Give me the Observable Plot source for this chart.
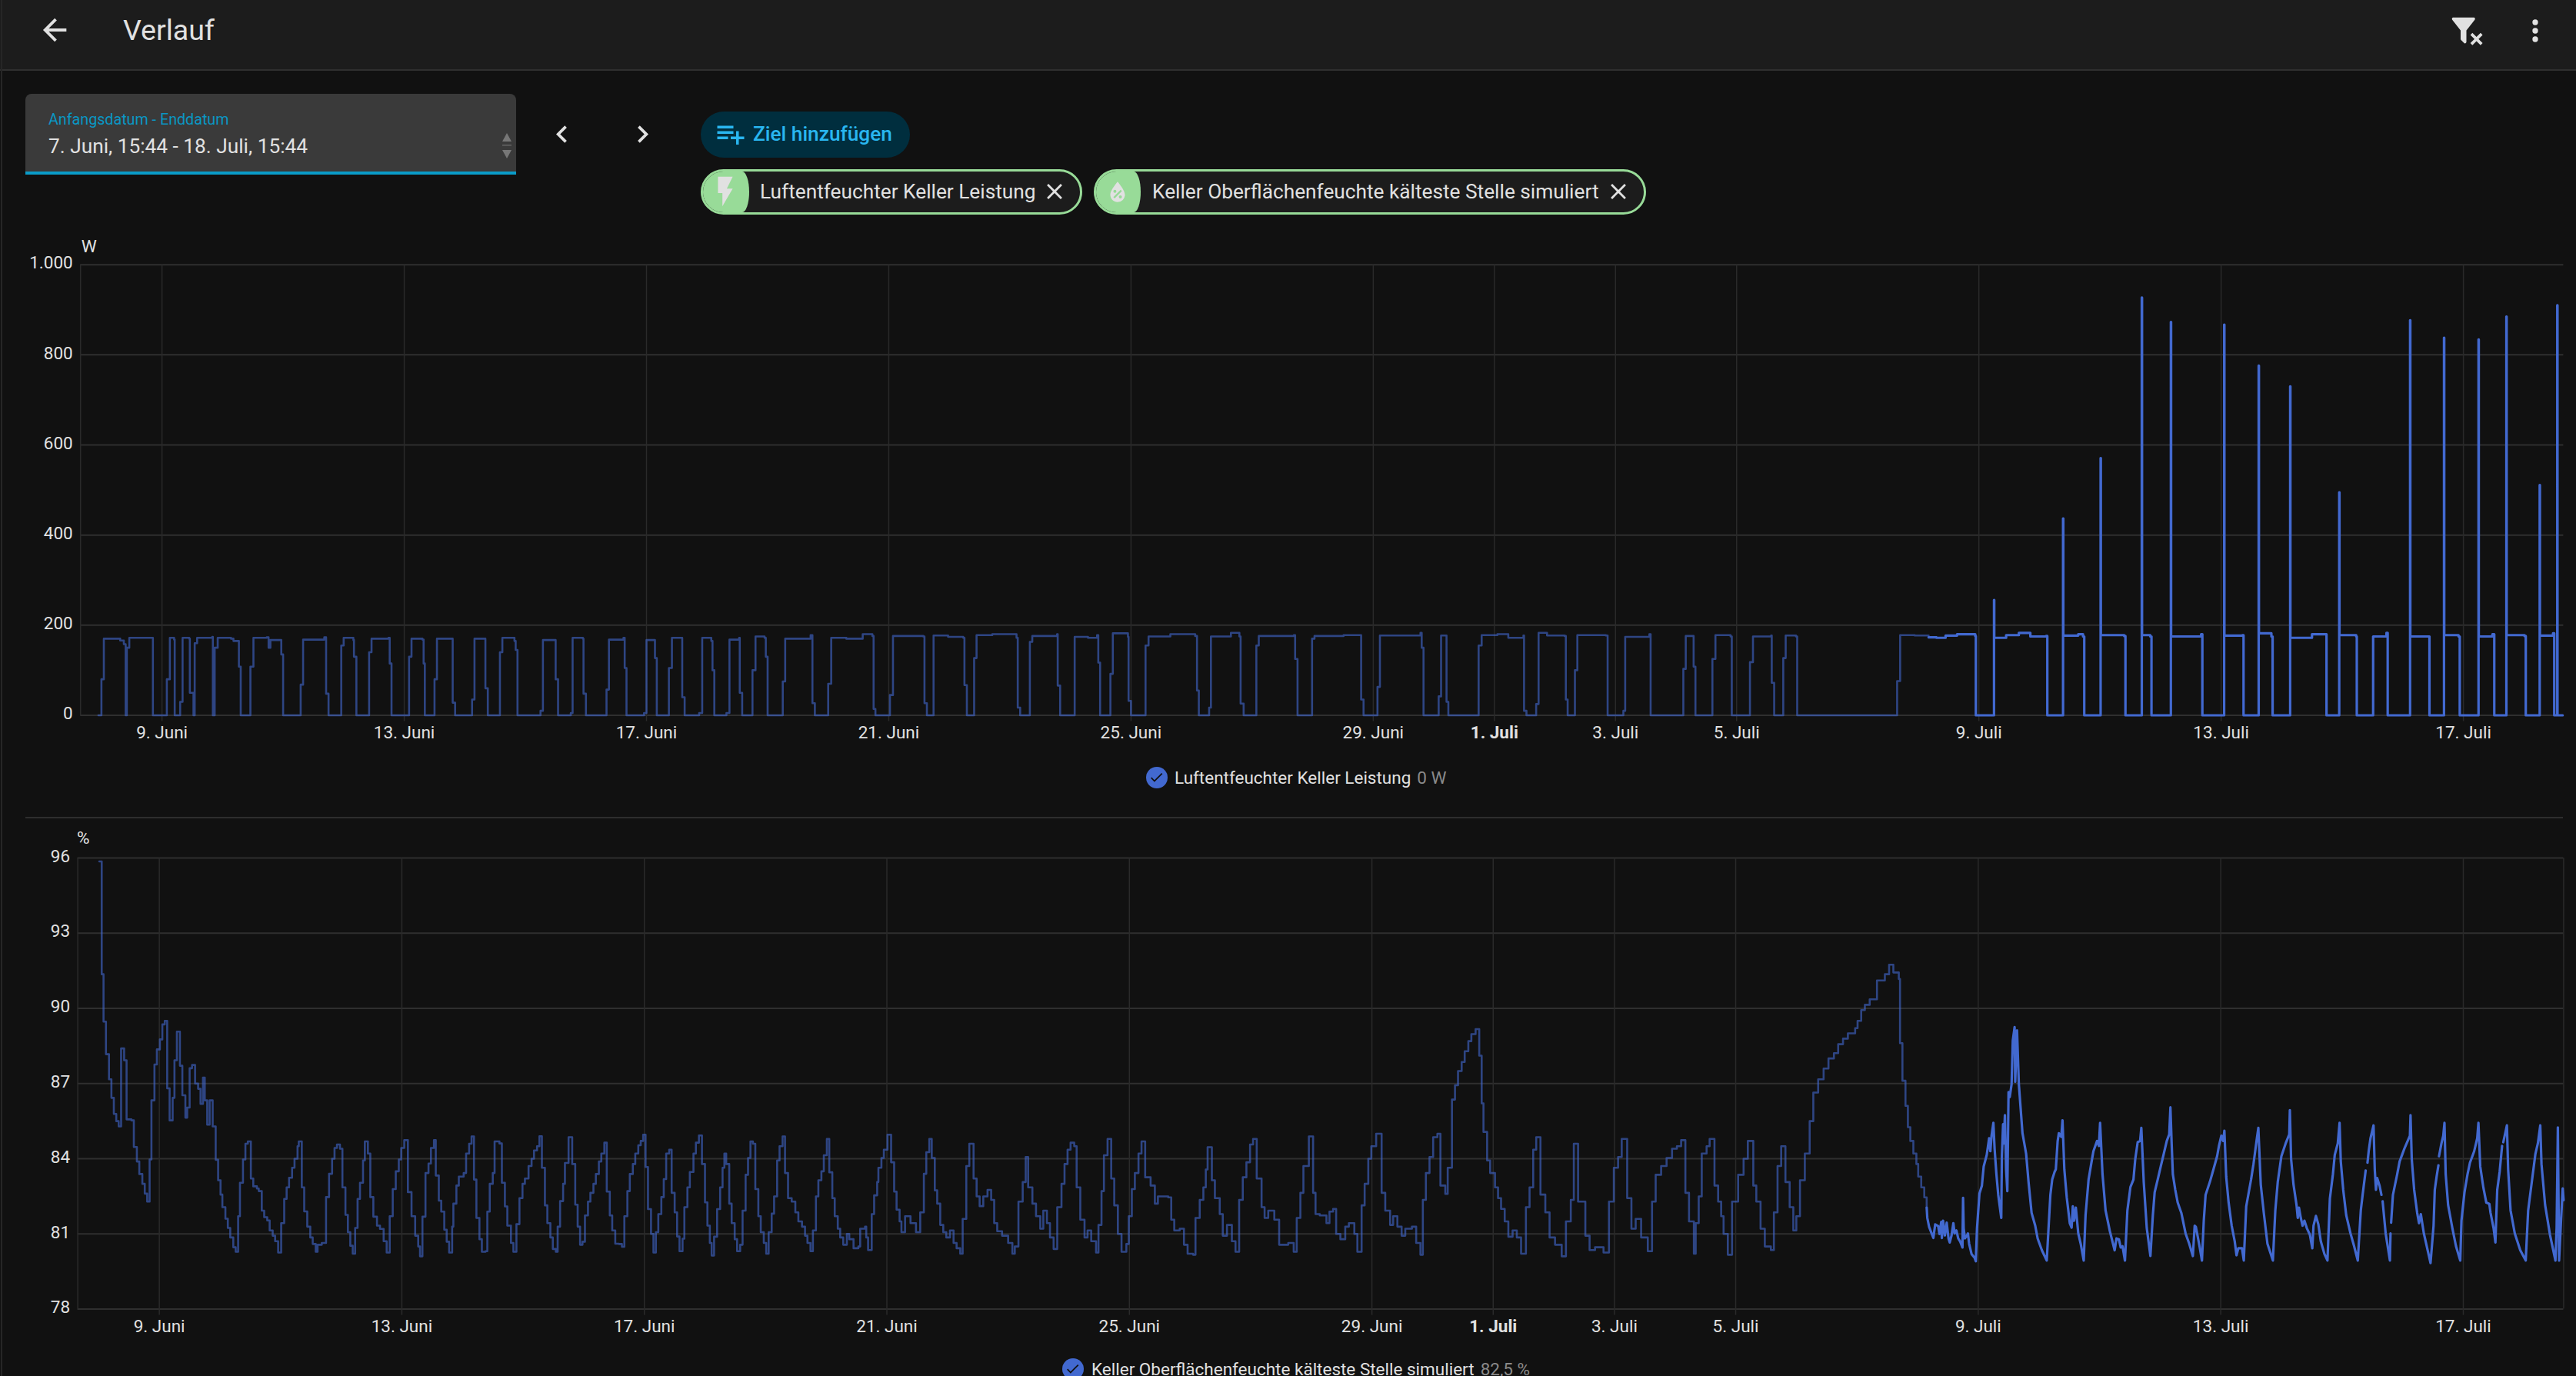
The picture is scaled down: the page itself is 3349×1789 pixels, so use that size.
<!DOCTYPE html>
<html lang="de"><head><meta charset="utf-8"><title>Verlauf</title>
<script src="https://cdn.jsdelivr.net/npm/d3@7"></script>
<script src="https://cdn.jsdelivr.net/npm/@observablehq/plot@0.6"></script>
<style>
html,body{margin:0;padding:0;background:#111111;width:3349px;height:1789px;overflow:hidden;font-family:Roboto,sans-serif;color:#e1e1e1}
.abs{position:absolute}
#header{left:0;top:0;width:3349px;height:90px;background:#1c1c1c;border-bottom:2px solid #2f2f2f}
#sideline{left:1px;top:0;width:2px;height:1789px;background:#262626}
#title{left:160px;top:17px;font-size:37.5px;line-height:44px;color:#e1e1e1}
svg.icon{position:absolute;fill:#e1e1e1}
#datebox{left:33px;top:122px;width:638px;height:101px;background:#3a3a3a;border-radius:8px 8px 0 0;border-bottom:4px solid #0a9cc9}
#datelabel{left:63px;top:144px;font-size:19.7px;line-height:24px;color:#0a97c4}
#datevalue{left:63px;top:174px;font-size:26.25px;line-height:32px;color:#e1e1e1}
#addchip{left:911px;top:145px;width:272px;height:60px;border-radius:30px;background:#002e3e}
#addtext{left:979px;top:157px;font-size:26.25px;line-height:34px;font-weight:500;color:#29b6f0}
.chip{position:absolute;top:220px;height:53px;border:3px solid #98db98;border-radius:30px;background:#1c1c1c;overflow:hidden}
.chipgreen{position:absolute;left:0;top:0;height:100%;background:#98db98;border-radius:0 9px 9px 0/0 50% 50% 0}
.chiptext{position:absolute;top:232px;font-size:26.25px;line-height:34px;color:#e1e1e1;white-space:nowrap}
.legend{position:absolute;font-size:22.5px;line-height:28px;color:#e1e1e1;white-space:nowrap}
.legend span{color:#8a8a8a;margin-left:8px}
.dot{position:absolute;width:28px;height:28px;border-radius:50%;background:#4269d0}
#sep{left:33px;top:1062px;width:3299px;height:2px;background:#2e2e2e}
#chartPower,#chartHumidity{position:absolute;left:0}
#chartPower{top:300px}#chartHumidity{top:1070px}
</style></head><body>
<div class="abs" id="header"></div><div class="abs" id="sideline"></div>
<svg class="icon" style="left:48px;top:16px" width="46" height="46" viewBox="0 0 24 24"><path d="M20,11V13H8L13.5,18.5L12.08,19.92L4.16,12L12.08,4.08L13.5,5.5L8,11H20Z"/></svg>
<div class="abs" id="title">Verlauf</div>
<svg class="icon" style="left:3184px;top:17px" width="45" height="45" viewBox="0 0 24 24"><path d="M14.76,20.83L17.6,18L14.76,15.17L16.17,13.76L19,16.57L21.83,13.76L23.24,15.17L20.43,18L23.24,20.83L21.83,22.24L19,19.4L16.17,22.24L14.76,20.83M12,12V19.88C12.04,20.18 11.94,20.5 11.71,20.71C11.32,21.1 10.69,21.1 10.3,20.71L8.29,18.7C8.06,18.47 7.96,18.16 8,17.87V12H7.97L2.21,4.62C1.87,4.19 1.95,3.56 2.38,3.22C2.57,3.08 2.78,3 3,3V3H17V3C17.22,3 17.43,3.08 17.62,3.22C18.05,3.56 18.13,4.19 17.79,4.62L12.03,12H12Z"/></svg>
<svg class="icon" style="left:3274px;top:18px" width="44" height="44" viewBox="0 0 24 24"><path d="M12,16A2,2 0 0,1 14,18A2,2 0 0,1 12,20A2,2 0 0,1 10,18A2,2 0 0,1 12,16M12,10A2,2 0 0,1 14,12A2,2 0 0,1 12,14A2,2 0 0,1 10,12A2,2 0 0,1 12,10M12,4A2,2 0 0,1 14,6A2,2 0 0,1 12,8A2,2 0 0,1 10,6A2,2 0 0,1 12,4Z"/></svg>
<div class="abs" id="datebox"></div>
<div class="abs" id="datelabel">Anfangsdatum - Enddatum</div>
<div class="abs" id="datevalue">7. Juni, 15:44 - 18. Juli, 15:44</div>
<svg class="abs" style="left:652px;top:172px" width="14" height="36" viewBox="0 0 14 36"><path d="M7 1L13 12H1Z" fill="#777"/><rect x="1" y="16" width="12" height="1.5" fill="#666"/><path d="M7 34L13 23H1Z" fill="#777"/></svg>
<svg class="icon" style="left:708px;top:152px" width="45" height="45" viewBox="0 0 24 24"><path d="M15.41,16.58L10.83,12L15.41,7.41L14,6L8,12L14,18L15.41,16.58Z"/></svg>
<svg class="icon" style="left:813px;top:152px" width="45" height="45" viewBox="0 0 24 24"><path d="M8.59,16.58L13.17,12L8.59,7.41L10,6L16,12L10,18L8.59,16.58Z"/></svg>
<div class="abs" id="addchip"></div>
<svg class="icon" style="left:929px;top:153px;fill:#29b6f0" width="42" height="42" viewBox="0 0 24 24"><path d="M2,16H10V14H2M18,14V10H16V14H12V16H16V20H18V16H22V14M14,6H2V8H14M14,10H2V12H14V10Z"/></svg>
<div class="abs" id="addtext">Ziel hinzufügen</div>
<div class="chip" style="left:911px;width:490px"><div class="chipgreen" style="width:60px"></div></div>
<svg class="icon" style="left:920px;top:226px" width="46" height="46" viewBox="0 0 24 24"><path d="M7,2V13H10V22L17,10H13L17,2H7Z"/></svg>
<div class="chiptext" style="left:988px">Luftentfeuchter Keller Leistung</div>
<svg class="icon" style="left:1354px;top:232px" width="34" height="34" viewBox="0 0 24 24"><path d="M19,6.41L17.59,5L12,10.59L6.41,5L5,6.41L10.59,12L5,17.59L6.41,19L12,13.41L17.59,19L19,17.59L13.41,12L19,6.41Z"/></svg>
<div class="chip" style="left:1422px;width:712px"><div class="chipgreen" style="width:58px"></div></div>
<svg class="icon" style="left:1434px;top:231px" width="38" height="38" viewBox="0 0 24 24"><path d="M12,3.25C12,3.25 6,10 6,14C6,17.32 8.69,20 12,20A6,6 0 0,0 18,14C18,10 12,3.25 12,3.25M14.47,9.97L15.53,11.03L9.53,17.03L8.47,15.97M9.75,10A1.25,1.25 0 0,1 11,11.25A1.25,1.25 0 0,1 9.75,12.5A1.25,1.25 0 0,1 8.5,11.25A1.25,1.25 0 0,1 9.75,10M14.25,14.5A1.25,1.25 0 0,1 15.5,15.75A1.25,1.25 0 0,1 14.25,17A1.25,1.25 0 0,1 13,15.75A1.25,1.25 0 0,1 14.25,14.5Z"/></svg>
<div class="chiptext" style="left:1498px">Keller Oberflächenfeuchte kälteste Stelle simuliert</div>
<svg class="icon" style="left:2087px;top:232px" width="34" height="34" viewBox="0 0 24 24"><path d="M19,6.41L17.59,5L12,10.59L6.41,5L5,6.41L10.59,12L5,17.59L6.41,19L12,13.41L17.59,19L19,17.59L13.41,12L19,6.41Z"/></svg>
<div id="chartPower"></div>
<div class="dot" style="left:1489.5px;top:997px"></div>
<svg class="icon" style="left:1493px;top:1000px" width="21" height="21" viewBox="0 0 24 24"><path d="M21,7L9,19L3.5,13.5L4.91,12.09L9,16.17L19.59,5.59L21,7Z" fill="#111"/></svg>
<div class="legend" style="left:1527px;top:997px">Luftentfeuchter Keller Leistung<span>0 W</span></div>
<div class="abs" id="sep"></div>
<div id="chartHumidity"></div>
<div class="dot" style="left:1381px;top:1766px"></div>
<svg class="icon" style="left:1384px;top:1769px" width="21" height="21" viewBox="0 0 24 24"><path d="M21,7L9,19L3.5,13.5L4.91,12.09L9,16.17L19.59,5.59L21,7Z" fill="#111"/></svg>
<div class="legend" style="left:1419px;top:1766px">Keller Oberflächenfeuchte kälteste Stelle simuliert<span>82,5 %</span></div>
<script>
// Time is given as a day number counted from 1 June (31 = 1 July), with the fraction as time of day.
const rangeDays = [7.655, 48.655];
const tickDays = [9, 13, 17, 21, 25, 29, 33, 35, 39, 43, 47];
const tickLabels = ["9. Juni", "13. Juni", "17. Juni", "21. Juni", "25. Juni", "29. Juni", "3. Juli", "5. Juli", "9. Juli", "13. Juli", "17. Juli"];
const monthTickDay = 31;
const monthTickLabel = "1. Juli";
const powerTicks = [0, 200, 400, 600, 800, 1000];
const powerTickLabels = ["0", "200", "400", "600", "800", "1.000"];
const humidityTicks = [78, 81, 84, 87, 90, 93, 96];

const powerOlder = [[7.95,0],[8.00,80],[8.04,170],[8.31,166],[8.37,158],[8.40,0],[8.42,150],[8.46,172],[8.84,172],[8.85,0],
[9.08,80],[9.13,172],[9.20,168],[9.21,0],[9.30,30],[9.34,172],[9.45,170],[9.46,50],[9.52,0],[9.54,160],[9.58,172],[9.83,174],[9.84,0],[9.87,150],[9.92,172],[10.14,170],[10.18,165],[10.25,165],[10.27,108],[10.30,0],
[10.46,108],[10.51,172],[10.73,173],[10.76,150],[10.79,167],[10.95,167],[10.97,135],[11.00,0],[11.29,68],[11.33,168],[11.68,173],[11.71,48],[11.75,0],[11.96,155],[12.00,172],[12.16,167],[12.17,130],[12.21,0],
[12.42,140],[12.46,170],[12.74,172],[12.76,115],[12.79,0],[13.08,130],[13.12,170],[13.30,168],[13.32,115],[13.34,0],[13.50,80],[13.54,170],[13.77,170],[13.80,28],[13.84,0],[14.12,35],[14.16,170],[14.33,170],[14.34,60],[14.38,0],
[14.58,140],[14.62,172],[14.82,165],[14.84,145],[14.87,0],[15.25,10],[15.29,167],[15.49,167],[15.50,80],[15.54,0],[15.75,5],[15.78,172],[15.95,170],[15.96,48],[16.00,0],[16.34,57],[16.38,168],[16.62,172],[16.64,105],[16.67,0],
[16.96,5],[17.00,167],[17.12,167],[17.14,127],[17.17,0],[17.37,105],[17.42,172],[17.58,172],[17.59,40],[17.63,0],[17.87,5],[17.92,172],[18.07,165],[18.09,100],[18.12,0],[18.32,5],[18.37,168],[18.53,172],[18.54,50],[18.58,0],
[18.75,100],[18.80,175],[18.95,172],[18.97,130],[19.00,0],[19.25,75],[19.29,170],[19.71,178],[19.74,27],[19.78,0],[20.00,70],[20.05,172],[20.30,170],[20.57,180],[20.73,176],[20.75,14],[20.78,0],
[21.02,45],[21.07,176],[21.57,175],[21.59,27],[21.63,0],[21.74,177],[21.98,174],[22.23,172],[22.25,67],[22.29,0],[22.41,127],[22.45,178],[22.71,180],[23.11,172],[23.13,17],[23.17,0],[23.33,163],[23.37,176],[23.78,180],[23.79,66],[23.83,0],
[24.07,174],[24.29,172],[24.44,178],[24.46,117],[24.49,0],[24.66,92],[24.70,182],[24.95,174],[24.96,32],[25.00,0],[25.24,155],[25.29,175],[25.65,180],[26.06,176],[26.09,55],[26.12,0],[26.29,17],[26.32,175],[26.65,183],[26.79,175],[26.81,26],[26.86,0],
[27.07,155],[27.11,176],[27.69,178],[27.71,125],[27.75,0],[27.99,170],[28.03,176],[28.51,178],[28.78,178],[28.80,35],[28.84,0],[29.07,63],[29.11,177],[29.78,183],[29.80,150],[29.83,0],[30.08,42],[30.12,177],[30.19,177],[30.21,30],[30.24,0],
[30.74,155],[30.79,178],[31.05,180],[31.23,172],[31.48,177],[31.49,10],[31.53,0],[31.69,25],[31.73,183],[31.87,177],[32.16,176],[32.18,35],[32.21,0],[32.33,100],[32.37,178],[32.84,177],[32.87,0],[33.13,10],[33.16,174],[33.56,180],[33.58,0],
[34.12,103],[34.16,176],[34.27,176],[34.29,108],[34.32,0],[34.60,125],[34.65,178],[34.90,175],[34.92,0],[35.22,118],[35.27,175],[35.57,177],[35.58,72],[35.62,0],[35.77,127],[35.81,177],[35.98,175],[36.00,0],[37.65,76],[37.70,178],[37.94,177],[38.17,173]];

const powerRecent = [[38.17,173],[38.30,172],[38.45,177],[38.64,180],[38.94,176],[38.95,0],[39.25,256],[39.254,172],[39.45,178],[39.66,183],[39.85,175],[40.11,176],[40.13,0],[40.39,437],[40.394,177],[40.64,180],[40.72,175],[40.74,0],[41.01,571],[41.014,178],[41.40,176],[41.42,0],
[41.69,927],[41.694,178],[41.83,175],[41.85,0],[42.17,873],[42.174,175],[42.67,180],[42.69,0],[43.05,867],[43.054,177],[43.35,178],[43.37,0],[43.62,776],[43.624,182],[43.83,175],[43.85,0],[44.14,730],[44.144,172],[44.50,180],[44.73,180],[44.74,0],
[44.95,495],[44.954,178],[45.23,175],[45.24,0],[45.51,175],[45.73,183],[45.75,0],[46.12,877],[46.124,175],[46.42,175],[46.44,0],[46.68,838],[46.684,178],[46.92,175],[46.94,0],[47.25,834],[47.254,175],[47.48,180],[47.51,0],
[47.71,885],[47.714,178],[48.01,176],[48.03,0],[48.26,511],[48.264,177],[48.48,182],[48.50,0],[48.55,910],[48.554,0],[48.64,0]];

const humidityOlder = [[8.01,95.86],[8.05,91.36],[8.08,89.47],[8.12,88.17],[8.17,87.17],[8.21,86.43],[8.25,85.79],[8.29,85.5],[8.33,85.29],[8.37,88.4],[8.42,87.93],[8.46,85.57],[8.54,85.53],[8.58,84.47],[8.63,83.89],[8.67,83.39],[8.72,83.0],[8.76,82.61],[8.80,82.29],[8.84,83.97],[8.87,86.33],[8.92,87.76],[8.96,88.36],
[9.01,88.76],[9.05,89.36],[9.09,89.5],[9.13,86.81],[9.17,85.53],[9.22,86.43],[9.25,87.93],[9.29,89.07],[9.34,87.71],[9.38,86.53],[9.43,85.64],[9.46,86.04],[9.50,87.61],[9.54,87.74],[9.59,87.0],[9.64,86.79],[9.68,86.19],[9.72,87.24],[9.75,86.33],[9.79,85.36],[9.83,86.33],[9.88,85.29],[9.93,83.96],[9.97,83.14],
[10.01,82.57],[10.04,82.07],[10.09,81.61],[10.13,81.24],[10.17,80.86],[10.22,80.47],[10.26,80.29],[10.30,81.71],[10.33,83.04],[10.38,83.97],[10.42,84.6],[10.46,84.69],[10.51,83.21],[10.55,82.9],[10.61,82.81],[10.64,82.71],[10.69,81.93],[10.73,81.67],[10.78,81.54],[10.82,81.14],[10.87,80.93],[10.91,80.71],[10.96,80.26],
[11.01,81.43],[11.06,82.4],[11.10,82.86],[11.14,83.24],[11.19,83.64],[11.23,84.0],[11.28,84.5],[11.30,84.69],[11.35,82.86],[11.39,81.9],[11.44,81.29],[11.49,80.86],[11.53,80.6],[11.58,80.29],[11.61,80.57],[11.68,80.64],[11.75,82.47],[11.80,83.4],[11.85,84.0],[11.89,84.43],[11.93,84.57],[11.98,84.4],
[12.02,82.86],[12.07,81.76],[12.11,81.07],[12.15,80.53],[12.19,80.21],[12.23,81.24],[12.27,82.4],[12.31,83.04],[12.36,83.93],[12.39,84.69],[12.44,84.21],[12.48,82.47],[12.53,81.69],[12.59,81.33],[12.64,81.2],[12.70,80.71],[12.75,80.26],[12.80,81.71],[12.85,82.79],[12.90,83.5],[12.95,83.97],[12.99,84.43],
[13.04,84.74],[13.10,82.67],[13.16,81.71],[13.22,80.93],[13.27,80.5],[13.30,80.11],[13.34,81.69],[13.39,83.43],[13.44,83.81],[13.48,84.43],[13.53,84.74],[13.56,83.33],[13.61,82.33],[13.65,81.89],[13.70,81.17],[13.74,80.69],[13.78,80.26],[13.83,81.29],[13.85,82.21],[13.90,82.93],[13.94,83.29],[14.02,83.43],[14.06,84.21],[14.11,84.6],[14.15,84.89],
[14.19,83.17],[14.23,81.64],[14.28,80.79],[14.32,80.29],[14.38,80.31],[14.41,81.89],[14.45,83.0],[14.50,83.43],[14.53,84.69],[14.61,84.61],[14.65,83.04],[14.70,82.1],[14.74,81.33],[14.80,80.64],[14.84,80.29],[14.89,81.39],[14.94,82.43],[14.99,83.0],[15.03,83.21],[15.09,83.71],[15.14,84.0],[15.18,84.33],[15.23,84.5],[15.27,84.9],
[15.31,83.64],[15.36,82.14],[15.40,81.43],[15.45,80.86],[15.49,80.4],[15.54,80.29],[15.57,81.29],[15.61,82.31],[15.66,83.0],[15.69,83.83],[15.75,84.86],[15.81,83.79],[15.86,82.17],[15.90,81.29],[15.94,80.57],[15.98,80.69],[16.02,81.74],[16.07,82.29],[16.11,82.64],[16.16,83.0],[16.20,83.39],[16.25,83.89],[16.29,84.21],[16.34,84.64],
[16.38,82.69],[16.43,81.74],[16.47,81.14],[16.52,80.61],[16.58,80.6],[16.63,80.49],[16.67,81.71],[16.72,82.71],[16.76,83.39],[16.81,83.79],[16.85,84.21],[16.90,84.54],[16.94,84.71],[16.98,84.96],[17.02,83.67],[17.06,81.99],[17.11,81.0],[17.15,80.26],[17.19,81.07],[17.23,81.79],[17.28,82.47],[17.32,83.19],[17.36,84.21],[17.41,84.36],
[17.45,82.64],[17.50,81.86],[17.54,80.9],[17.58,80.31],[17.63,80.81],[17.66,82.07],[17.71,82.86],[17.75,83.47],[17.81,84.21],[17.85,84.64],[17.90,84.93],[17.95,83.79],[18.00,82.26],[18.04,81.33],[18.08,80.64],[18.11,80.14],[18.15,80.89],[18.20,81.99],[18.25,82.86],[18.29,83.64],[18.32,84.21],[18.35,83.79],[18.40,82.21],[18.44,81.43],[18.49,80.79],[18.53,80.31],
[18.58,80.57],[18.62,81.93],[18.67,83.36],[18.71,84.03],[18.75,84.69],[18.79,84.6],[18.83,82.79],[18.88,81.71],[18.92,81.07],[18.97,80.64],[19.01,80.21],[19.05,81.07],[19.10,81.81],[19.14,82.5],[19.19,83.93],[19.23,84.5],[19.28,84.89],[19.32,83.43],[19.37,82.43],[19.43,82.29],[19.49,81.86],[19.54,81.5],[19.60,81.29],[19.65,80.93],[19.69,80.64],[19.74,80.31],
[19.78,81.14],[19.83,82.5],[19.87,83.14],[19.92,83.5],[19.96,84.14],[20.01,84.79],[20.05,83.46],[20.10,82.43],[20.14,81.71],[20.19,81.21],[20.23,80.86],[20.28,80.57],[20.34,81.0],[20.38,80.79],[20.45,80.43],[20.53,80.5],[20.56,81.21],[20.64,81.29],[20.66,80.86],[20.69,80.36],[20.75,81.79],[20.79,82.54],[20.84,83.07],[20.86,83.64],[20.91,84.03],[20.95,84.36],[21.01,84.96],
[21.07,83.86],[21.12,82.69],[21.16,81.97],[21.21,81.5],[21.24,81.07],[21.30,81.71],[21.39,81.43],[21.48,81.07],[21.55,81.86],[21.61,83.4],[21.65,84.26],[21.70,84.79],[21.74,84.03],[21.79,82.74],[21.83,82.21],[21.88,81.36],[21.93,81.07],[21.98,80.86],[22.04,81.14],[22.10,80.64],[22.15,80.43],[22.21,80.21],[22.25,81.6],[22.31,83.71],[22.36,84.6],
[22.43,83.21],[22.48,82.5],[22.53,82.11],[22.59,82.5],[22.66,82.76],[22.72,82.36],[22.77,81.43],[22.82,81.11],[22.90,80.93],[23.00,80.64],[23.07,80.21],[23.11,80.5],[23.17,82.29],[23.24,83.07],[23.29,84.07],[23.33,82.86],[23.40,82.21],[23.46,81.71],[23.53,81.21],[23.58,81.93],[23.64,81.43],[23.69,80.86],[23.75,80.4],
[23.81,82.07],[23.88,83.0],[23.93,83.79],[23.98,84.36],[24.03,84.64],[24.09,84.5],[24.13,82.86],[24.19,81.57],[24.26,80.86],[24.31,81.14],[24.37,80.71],[24.45,80.26],[24.49,81.36],[24.54,82.71],[24.58,84.14],[24.64,84.79],[24.70,83.21],[24.75,82.14],[24.81,81.0],[24.87,80.29],[24.95,80.6],[24.99,81.71],
[25.04,82.79],[25.09,83.43],[25.15,84.21],[25.20,84.69],[25.26,83.26],[25.35,82.93],[25.42,82.21],[25.47,82.5],[25.64,82.46],[25.69,81.57],[25.74,81.14],[25.83,81.21],[25.90,80.57],[25.96,80.21],[26.05,80.17],[26.09,81.64],[26.16,82.36],[26.22,82.86],[26.26,83.57],[26.29,84.46],
[26.36,83.14],[26.41,82.43],[26.49,81.79],[26.54,80.93],[26.61,81.36],[26.69,80.71],[26.75,80.29],[26.81,82.36],[26.87,83.26],[26.93,83.86],[26.99,84.57],[27.04,84.79],[27.10,83.21],[27.18,82.07],[27.23,81.64],[27.29,81.93],[27.39,81.57],[27.47,80.57],[27.62,80.64],[27.71,80.29],
[27.76,81.64],[27.82,82.64],[27.87,83.71],[27.96,84.89],[28.03,82.64],[28.07,81.79],[28.14,81.74],[28.25,81.43],[28.30,81.89],[28.36,82.0],[28.41,81.0],[28.48,80.79],[28.56,81.29],[28.62,81.43],[28.71,81.0],[28.76,80.29],[28.83,82.14],[28.88,83.0],[28.94,84.0],[28.99,84.5],[29.07,85.0],
[29.16,82.64],[29.22,81.93],[29.30,81.36],[29.35,81.71],[29.42,81.29],[29.49,80.93],[29.55,81.21],[29.66,81.29],[29.73,80.64],[29.80,80.17],[29.84,82.36],[29.89,83.43],[29.95,84.07],[30.01,84.86],[30.08,85.0],[30.13,82.93],[30.21,82.6],[30.25,83.64],[30.32,86.36],[30.37,86.93],[30.42,87.5],[30.48,87.86],[30.53,88.29],[30.59,88.69],[30.64,88.97],[30.71,89.17],
[30.77,88.11],[30.81,86.21],[30.84,85.07],[30.90,83.93],[30.95,83.43],[31.03,82.86],[31.08,82.43],[31.13,82.0],[31.19,81.5],[31.25,80.89],[31.32,81.14],[31.39,80.86],[31.46,80.21],[31.54,82.07],[31.60,82.86],[31.66,84.36],[31.71,84.86],[31.78,82.57],[31.86,81.86],[31.93,80.86],[32.02,80.57],[32.13,80.11],
[32.20,81.5],[32.28,82.36],[32.33,84.6],[32.40,82.29],[32.52,80.93],[32.59,80.36],[32.68,80.47],[32.82,80.26],[32.91,82.29],[32.99,83.64],[33.06,84.07],[33.12,84.79],[33.21,82.43],[33.28,81.21],[33.35,81.6],[33.44,80.86],[33.55,80.31],[33.62,82.29],[33.68,83.36],[33.77,83.71],[33.86,84.03],[33.95,84.4],[34.03,84.5],[34.10,84.74],[34.17,82.64],[34.23,81.5],[34.31,80.21],
[34.34,81.43],[34.39,82.5],[34.44,84.21],[34.52,84.5],[34.57,84.79],[34.65,82.93],[34.71,82.29],[34.76,81.71],[34.80,81.0],[34.87,80.17],[34.94,82.29],[35.04,83.36],[35.13,84.0],[35.20,84.71],[35.29,82.93],[35.34,82.29],[35.41,81.21],[35.48,80.5],[35.58,80.36],[35.63,81.86],[35.69,83.71],[35.75,84.5],[35.82,83.07],[35.89,82.07],[35.95,81.14],
[36.00,81.71],[36.06,83.14],[36.14,84.21],[36.22,85.5],[36.28,86.64],[36.36,87.17],[36.45,87.6],[36.53,88.0],[36.62,88.21],[36.69,88.57],[36.77,88.79],[36.85,89.0],[36.97,89.21],[37.01,89.5],[37.07,89.93],[37.13,90.14],[37.21,90.36],[37.33,91.11],[37.46,91.36],[37.53,91.74],[37.60,91.43],[37.69,91.17],
[37.71,88.61],[37.75,87.11],[37.80,86.11],[37.84,85.26],[37.88,84.71],[37.93,84.21],[37.98,83.79],[38.01,83.29],[38.06,82.86],[38.11,82.46],[38.15,82.05]];

// null marks a short gap in the recorded series.
const humidityRecent = [[38.15,82.05],[38.16,81.64],[38.19,81.28],[38.26,80.84],[38.29,81.38],[38.34,81.31],[38.36,81.0],[38.39,81.48],[38.40,80.84],[38.42,81.53],[38.45,80.94],[38.48,81.45],[38.51,80.82],[38.53,80.66],[38.56,80.94],[38.59,81.43],[38.61,81.02],[38.64,81.14],[38.67,80.82],[38.70,80.71],[38.74,80.46],[38.75,82.44],[38.76,81.23],[38.78,80.82],[38.81,80.92],[38.83,81.02],[38.85,80.61],[38.89,80.2],[38.94,80.05],[38.96,79.91],
[38.98,81.23],[39.02,82.61],[39.06,82.92],[39.09,83.69],[39.14,84.15],[39.18,84.82],[39.20,84.3],[39.22,84.92],[39.25,85.43],[39.27,84.4],[39.30,83.38],[39.33,82.56],[39.38,81.64],[39.39,84.1],[39.41,85.38],[39.42,84.61],[39.44,85.74],[39.46,83.58],[39.48,82.71],[39.50,86.66],[39.52,86.46],[39.55,86.97],[39.57,88.71],[39.60,89.25],[39.61,87.07],[39.64,89.12],[39.67,86.97],[39.73,85.02],[39.79,84.2],[39.83,83.07],[39.88,81.84],[39.94,81.33],[39.98,80.82],[40.05,80.35],[40.13,79.94],
[40.19,82.56],[40.22,83.17],[40.26,83.48],[40.28,83.58],[40.31,84.71],[40.33,85.02],[40.37,84.87],[40.39,85.53],[40.42,83.58],[40.46,82.46],[40.51,81.43],[40.54,81.25],[40.56,82.1],[40.58,81.53],[40.61,82.05],[40.65,81.02],[40.69,80.61],[40.74,79.94],
[40.77,81.74],[40.82,83.17],[40.87,83.89],[40.90,84.3],[40.96,84.71],[40.99,84.51],[41.01,85.43],[41.05,83.38],[41.10,81.94],[41.17,81.12],[41.25,80.35],[41.28,80.82],[41.32,80.79],[41.35,80.46],[41.38,80.51],[41.42,79.94],
[41.46,81.94],[41.51,82.87],[41.56,83.17],[41.59,83.99],[41.63,84.66],[41.67,84.71],[41.69,85.23],[41.73,83.07],[41.78,81.23],[41.84,80.12],[41.88,81.74],[41.91,82.66],[41.96,83.17],[42.01,83.69],[42.06,84.2],[42.11,84.71],[42.15,84.97],[42.17,86.05],[42.19,84.61],[42.21,83.38],[42.25,82.76],[42.29,82.25],[42.35,81.84],[42.42,81.02],[42.48,80.61],[42.54,80.12],
[42.57,81.33],[42.59,81.28],[42.65,80.51],[42.69,79.94],[42.72,81.53],[42.75,82.56],[42.82,83.07],[42.88,83.58],[42.94,84.1],[42.97,84.51],[43.01,84.92],[43.04,84.71],[43.06,85.12],[43.09,83.28],[43.13,82.25],[43.18,81.33],[43.23,80.71],[43.26,80.15],[43.29,80.43],[43.35,80.43],[43.38,79.94],
[43.42,82.1],[43.50,83.17],[43.54,83.79],[43.59,84.71],[43.62,85.23],[43.66,82.97],[43.71,81.84],[43.77,80.61],[43.86,79.94],[43.90,81.94],[43.94,83.07],[44.00,84.1],[44.07,84.61],[44.13,84.97],[44.14,85.94],[44.16,84.0],[44.20,82.97],[44.25,82.15],[44.27,81.64],[44.29,82.05],[44.32,81.64],[44.35,81.33],[44.38,81.53],[44.42,81.23],[44.47,80.97],[44.51,80.43],[44.53,81.33],[44.57,81.72],[44.61,81.38],[44.65,80.71],[44.71,80.2],[44.76,79.94],
[44.80,82.41],[44.85,83.38],[44.88,84.15],[44.93,84.61],[44.96,85.43],[44.98,83.89],[45.02,82.76],[45.07,81.74],[45.14,81.02],[45.20,80.51],[45.26,79.94],[45.31,81.94],[45.34,82.56],[45.39,83.53],[45.405,null],[45.42,83.84],[45.44,84.3],[45.47,84.82],[45.52,85.33],[45.54,83.58],[45.56,82.76],[45.58,83.23],[45.62,82.92],[45.65,82.56],[45.66,null],[45.67,82.3],[45.72,81.02],[45.79,79.94],[45.80,81.02],[45.805,null],
[45.81,81.45],[45.84,82.56],[45.91,83.38],[45.95,83.89],[46.03,84.41],[46.12,84.92],[46.13,85.74],[46.15,84.0],[46.19,82.76],[46.24,81.84],[46.27,81.43],[46.30,81.79],[46.35,81.02],[46.46,79.84],[46.51,81.33],[46.53,82.76],[46.56,83.28],[46.59,83.74],[46.595,null],[46.60,84.1],[46.64,84.61],[46.67,84.92],[46.69,85.43],[46.71,83.38],[46.75,82.15],[46.82,81.23],[46.88,80.51],[46.95,79.94],
[46.97,81.53],[47.02,82.66],[47.07,83.38],[47.11,83.84],[47.18,84.3],[47.23,84.82],[47.25,85.43],[47.28,83.69],[47.33,82.87],[47.38,82.25],[47.43,82.2],[47.45,81.84],[47.50,81.23],[47.53,80.66],[47.56,82.76],[47.60,83.48],[47.64,84.51],[47.65,null],[47.66,84.66],[47.72,85.33],[47.74,83.58],[47.78,81.94],[47.85,81.02],[47.94,80.35],[48.03,79.94],
[48.07,81.94],[48.13,83.07],[48.19,84.2],[48.23,84.61],[48.27,85.33],[48.29,83.79],[48.35,82.15],[48.43,80.97],[48.52,79.94],[48.54,81.26],[48.56,85.25],[48.58,79.94],[48.61,81.43],[48.64,82.82],[48.655,82.35]];

const toDate = d => new Date(Date.UTC(2025, 5, 1) + (d - 1) * 864e5);
const labelOfTick = t => tickLabels[tickDays.indexOf(Math.round((+t - Date.UTC(2025, 5, 1)) / 864e5) + 1)];
const GRID_H = "#2f2f2f", GRID_V = "#2a2a2a", TEXT = "#e1e1e1", LINE = "#4269d0";

function chart({older, recent, olderCurve, recentCurve, yDomain, yTicks, yFormat, unit, unitX, unitY, rightEdge, height, marginTop, marginBottom, marginLeft, tickPadding}) {
  const xTicks = tickDays.map(toDate), monthTick = [toDate(monthTickDay)];
  const allX = [...xTicks, ...monthTick];
  const axisCommon = {anchor: "bottom", tickSize: 8, tickPadding, stroke: GRID_V, strokeWidth: 1.5, fill: TEXT, label: null};
  const edges = rightEdge ? rangeDays : [rangeDays[0]];
  return Plot.plot({
    width: 3349, height, marginTop, marginBottom, marginLeft, marginRight: 16.6,
    style: {background: "transparent", color: TEXT, fontFamily: "Roboto, sans-serif", fontSize: "22.5px", overflow: "visible"},
    x: {type: "utc", domain: rangeDays.map(toDate)},
    y: {domain: yDomain},
    marks: [
      Plot.ruleY(yTicks, {stroke: GRID_H, strokeWidth: 2}),
      Plot.ruleX(allX, {stroke: GRID_V, strokeWidth: 1.5}),
      Plot.ruleX(edges.map(toDate), {stroke: GRID_V, strokeWidth: 1.5}),
      Plot.axisX(xTicks, {...axisCommon, tickFormat: labelOfTick}),
      Plot.axisX(monthTick, {...axisCommon, fontWeight: "bold", tickFormat: () => monthTickLabel}),
      Plot.axisY(yTicks, {anchor: "left", tickSize: 0, tickPadding: 10, dy: -2, fill: TEXT, tickFormat: yFormat, label: null}),
      Plot.line(older, {x: p => toDate(p[0]), y: p => p[1], curve: olderCurve, stroke: LINE, strokeOpacity: 0.6, strokeWidth: 2.6, strokeLinejoin: "round"}),
      Plot.line(recent, {x: p => toDate(p[0]), y: p => p[1], curve: recentCurve, stroke: LINE, strokeWidth: 3.2, strokeLinejoin: "round"}),
      Plot.text([unit], {frameAnchor: "top-left", dx: unitX, dy: unitY, fill: TEXT, textAnchor: "start"})
    ]
  });
}

const powerLabel = v => powerTickLabels[powerTicks.indexOf(v)];
document.getElementById("chartPower").append(chart({
  older: powerOlder, recent: powerRecent, olderCurve: "step-after", recentCurve: "step-after",
  yDomain: [0, 1000], yTicks: powerTicks, yFormat: powerLabel, unit: "W", unitX: 1, unitY: -32, rightEdge: false,
  height: 680, marginTop: 43.7, marginBottom: 50.5, marginLeft: 104.2, tickPadding: 6
}));
document.getElementById("chartHumidity").append(chart({
  older: humidityOlder, recent: humidityRecent, olderCurve: "step-after", recentCurve: "linear",
  yDomain: [78, 96], yTicks: humidityTicks, yFormat: d => String(d), unit: "%", unitX: -1, unitY: -34, rightEdge: true,
  height: 690, marginTop: 44.9, marginBottom: 58.4, marginLeft: 100.6, tickPadding: 6
}));
</script>
</body></html>
